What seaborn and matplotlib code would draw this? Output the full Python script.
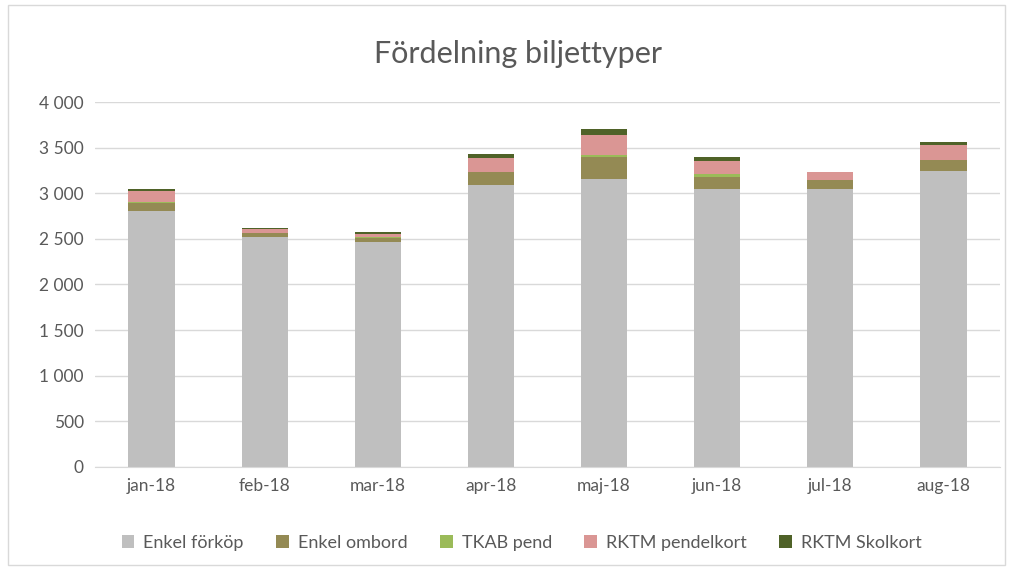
import pandas as pd
import matplotlib.pyplot as plt
import seaborn as sns
from matplotlib.patches import Rectangle, Patch
from matplotlib.ticker import FuncFormatter

months = ['jan-18', 'feb-18', 'mar-18', 'apr-18', 'maj-18', 'jun-18', 'jul-18', 'aug-18']
enkel_forkop = [2805, 2524, 2462, 3090, 3153, 3043, 3047, 3247]
enkel_ombord = [92, 37, 51, 140, 248, 138, 98, 117]
tkab_pend = [2, 2, 2, 4, 18, 27, 2, 3]
rktm_pendel = [126, 42, 42, 156, 219, 142, 88, 162]
rktm_skol = [18, 17, 15, 37, 66, 44, 2, 29]

series = ['Enkel förköp', 'Enkel ombord', 'TKAB pend', 'RKTM pendelkort', 'RKTM Skolkort']
colors = ['#BFBFBF', '#948A54', '#9BBB59', '#DA9694', '#4F6228']

df = pd.DataFrame({'month': months, 'Enkel förköp': enkel_forkop, 'Enkel ombord': enkel_ombord,
                   'TKAB pend': tkab_pend, 'RKTM pendelkort': rktm_pendel, 'RKTM Skolkort': rktm_skol})
cum = df[series].cumsum(axis=1)

sns.set_style('white')
plt.rcParams['font.family'] = ['Lato', 'DejaVu Sans']

fig = plt.figure(figsize=(10.11, 5.7), dpi=100)
ax = fig.add_axes([0.094, 0.181, 0.895, 0.64])

# draw stacked bars by overlaying cumulative totals, top segment first
for name, col in reversed(list(zip(series, colors))):
    sns.barplot(x=df['month'], y=cum[name], color=col, width=0.41, ax=ax,
                saturation=1, linewidth=0, order=months)

ax.set_ylim(0, 4000)
ax.set_xlim(-0.5, 7.5)
ax.set_yticks(range(0, 4001, 500))
ax.yaxis.set_major_formatter(FuncFormatter(lambda v, p: f'{int(v):,}'.replace(',', ' ')))
ax.grid(axis='y', color='#D9D9D9', linewidth=1)
ax.set_axisbelow(True)
for s in ['left', 'right', 'top']:
    ax.spines[s].set_visible(False)
ax.spines['bottom'].set_color('#D9D9D9')
ax.tick_params(axis='both', length=0, labelsize=12.5, labelcolor='#595959', pad=8)
ax.set_xlabel('')
ax.set_ylabel('')

fig.text(0.512, 0.905, 'Fördelning biljettyper', ha='center', va='center', fontsize=22, color='#595959')

handles = [Patch(facecolor=c, edgecolor='none') for c in colors]
fig.legend(handles, series, loc='center', bbox_to_anchor=(0.516, 0.048), ncol=5, frameon=False,
           fontsize=13, labelcolor='#595959', handlelength=0.7, handleheight=0.7,
           columnspacing=1.8, handletextpad=0.5)

fig.patches.append(Rectangle((0.008, 0.008), 0.986, 0.984, transform=fig.transFigure,
                             fill=False, edgecolor='#D9D9D9', linewidth=1))

fig.savefig('out.png', dpi=100)
